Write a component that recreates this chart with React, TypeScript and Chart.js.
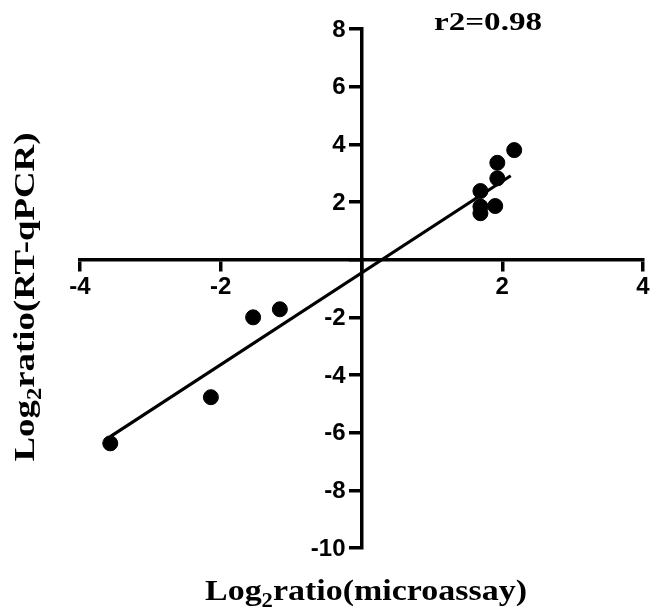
import React, { useEffect, useRef } from 'react';
import { Chart, registerables } from 'chart.js';

Chart.register(...registerables);

// Data
const pointsX = [-3.57, -2.14, -1.54, -1.16, 1.69, 1.69, 1.69, 1.90, 1.93, 1.93, 2.17];
const pointsY = [-6.37, -4.77, -2.0, -1.72, 2.38, 1.84, 1.61, 1.86, 2.82, 3.36, 3.80];
const fitX = [-3.57, 2.12];
const fitY = [-6.14, 2.91];
const xTicks = [-4, -2, 0, 2, 4];
const yTicks = [-10, -8, -6, -4, -2, 0, 2, 4, 6, 8];
const r2Label = 'r2=0.98';
const xTitleParts: [string, boolean][] = [['Log', false], ['2', true], ['ratio(microassay)', false]];
const yTitleParts: [string, boolean][] = [['Log', false], ['2', true], ['ratio(RT-qPCR)', false]];

const SERIF = '"Liberation Serif", "Times New Roman", serif';
const SANS = '"Liberation Sans", Arial, sans-serif';
const TICK_FONT_SIZE = 24;

function drawRich(ctx: CanvasRenderingContext2D, parts: [string, boolean][], size: number, targetW: number) {
  const fontMain = `bold ${size}px ${SERIF}`;
  const fontSub = `bold ${Math.round(size * 0.65)}px ${SERIF}`;
  const widths = parts.map(([t, sub]) => {
    ctx.font = sub ? fontSub : fontMain;
    return ctx.measureText(t).width;
  });
  const total = widths.reduce((a, b) => a + b, 0);
  ctx.scale(targetW / total, 1);
  let x = -total / 2;
  parts.forEach(([t, sub], i) => {
    ctx.font = sub ? fontSub : fontMain;
    ctx.fillText(t, x, sub ? size * 0.22 : 0);
    x += widths[i];
  });
}

const textPlugin = {
  id: 'textPlugin',
  afterDraw(chart: any) {
    const ctx: CanvasRenderingContext2D = chart.ctx;
    ctx.save();
    ctx.fillStyle = '#000';
    // y tick labels (left of the centred axis)
    const xs = chart.scales.x;
    const ys = chart.scales.y;
    const axisX = xs.getPixelForValue(0);
    ctx.font = `bold ${TICK_FONT_SIZE}px ${SANS}`;
    ctx.textAlign = 'right';
    ctx.textBaseline = 'middle';
    yTicks.forEach((v) => {
      if (v === 0) return;
      ctx.fillText(String(v), axisX - 16, ys.getPixelForValue(v) + 1);
    });

    ctx.textAlign = 'left';
    ctx.textBaseline = 'alphabetic';
    // x title
    ctx.save();
    ctx.translate(366, 600);
    drawRich(ctx, xTitleParts, 30, 322);
    ctx.restore();
    // y title
    ctx.save();
    ctx.translate(34, 297);
    ctx.rotate(-Math.PI / 2);
    drawRich(ctx, yTitleParts, 30, 329);
    ctx.restore();
    // r2
    ctx.save();
    ctx.translate(488, 30);
    drawRich(ctx, [[r2Label, false]], 25, 108);
    ctx.restore();
    ctx.restore();
  },
};

export default function App() {
  const ref = useRef<HTMLCanvasElement>(null);
  useEffect(() => {
    if (!ref.current) return;
    const tickFont = { family: SANS, size: TICK_FONT_SIZE, weight: 'bold' as const };
    const chart = new Chart(ref.current, {
      type: 'scatter',
      data: {
        datasets: [
          {
            label: 'points',
            data: pointsX.map((x, i) => ({ x, y: pointsY[i] })),
            backgroundColor: '#000',
            borderColor: '#000',
            pointRadius: 7.5,
            pointHoverRadius: 7.5,
            showLine: false,
          },
          {
            label: 'fit',
            data: fitX.map((x, i) => ({ x, y: fitY[i] })),
            borderColor: '#000',
            borderWidth: 3.2,
            pointRadius: 0,
            showLine: true,
          },
        ],
      },
      options: {
        responsive: false,
        animation: false,
        layout: { padding: { left: 80, right: 17, top: 29, bottom: 67 } },
        plugins: { legend: { display: false }, tooltip: { enabled: false } },
        scales: {
          x: {
            type: 'linear',
            min: -4,
            max: 4,
            position: { y: 0 } as any,
            afterBuildTicks: (axis: any) => {
              axis.ticks = xTicks.map((v) => ({ value: v }));
            },
            ticks: {
              font: tickFont,
              color: '#000',
              padding: 3,
              maxRotation: 0,
              autoSkip: false,
              callback: (v: any) => (Number(v) === 0 ? '' : String(v)),
            },
            grid: {
              drawOnChartArea: false,
              drawTicks: true,
              tickLength: 10,
              tickWidth: 3.5,
              tickColor: '#000',
              color: '#000',
              lineWidth: 3.5,
            },
            border: { display: true, width: 3.5, color: '#000' },
          },
          y: {
            type: 'linear',
            min: -10,
            max: 8,
            position: { x: 0 } as any,
            afterBuildTicks: (axis: any) => {
              axis.ticks = yTicks.map((v) => ({ value: v }));
            },
            ticks: {
              font: tickFont,
              color: 'rgba(0,0,0,0)',
              autoSkip: false,
              callback: () => '',
            },
            grid: {
              drawOnChartArea: false,
              drawTicks: true,
              tickLength: 11,
              tickWidth: 3.5,
              tickColor: '#000',
              color: '#000',
              lineWidth: 3.5,
            },
            border: { display: true, width: 3.5, color: '#000' },
          },
        },
      },
      plugins: [textPlugin],
    });
    return () => chart.destroy();
  }, []);
  return (
    <div style={{ position: 'fixed', left: 0, top: 0, width: 660, height: 615, background: '#fff' }}>
      <canvas ref={ref} width={660} height={615} />
    </div>
  );
}
